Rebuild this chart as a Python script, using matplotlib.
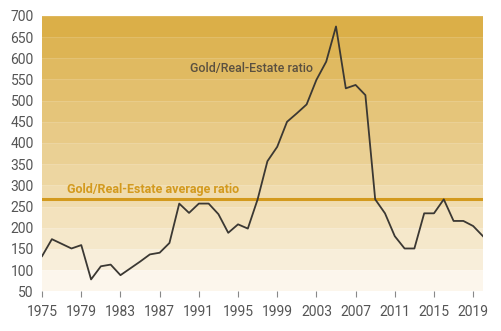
import matplotlib
matplotlib.use("Agg")
import matplotlib.pyplot as plt
import numpy as np
from matplotlib.colors import to_rgb

plt.rcParams["font.family"] = ["Roboto", "DejaVu Sans"]

years = list(range(1975, 2021))
ratio = [133, 173, 162, 151, 159, 78, 109, 113, 88, 104, 120, 137, 141, 164,
         257, 235, 257, 257, 232, 188, 208, 198, 267, 357, 391, 450, 470, 491,
         549, 592, 675, 529, 537, 513, 267, 234, 180, 151, 151, 234, 234, 267,
         216, 216, 204, 180]
average_ratio = 268

y_ticks = list(range(50, 701, 50))
x_ticks = list(range(1975, 2020, 4))

fig = plt.figure(figsize=(5.01, 3.31), dpi=100)
ax = fig.add_axes([0.084, 0.12, 0.88, 0.832])

# stepped gold background, one band per 50 units
top = np.array(to_rgb("#dbaf48"))
bottom = np.array(to_rgb("#fcf6ec"))
edges = y_ticks
n = len(edges) - 1
for i in range(n):
    t = i / (n - 1)
    c = bottom + (top - bottom) * t ** 0.9
    ax.axhspan(edges[i], edges[i + 1], color=c, lw=0, zorder=0)
    ax.axhline(edges[i + 1], color="white", alpha=0.12, lw=0.8, zorder=0.5)

ax.axhline(average_ratio, color="#d39a1e", lw=2.2, zorder=2)
ax.plot(years, ratio, color="#3b3833", lw=1.3, zorder=3)

ax.text(1990.1, 575, "Gold/Real-Estate ratio", color="#5a5040", va="center",
        fontsize=9, fontweight="medium", zorder=4)
ax.text(1977.5, 281, "Gold/Real-Estate average ratio", color="#d39a1e",
        fontsize=9, fontweight="bold", zorder=4)

ax.set_xlim(1975, 2020)
ax.set_ylim(50, 700)
ax.set_yticks(y_ticks)
ax.set_xticks(x_ticks)
ax.tick_params(axis="y", length=0, labelsize=10, labelcolor="#555555", pad=6)
ax.tick_params(axis="x", length=4, width=0.8, color="#888888", direction="out",
               labelsize=10, labelcolor="#555555", pad=6)
for s in ax.spines.values():
    s.set_visible(False)

fig.savefig("out.png", dpi=100)
